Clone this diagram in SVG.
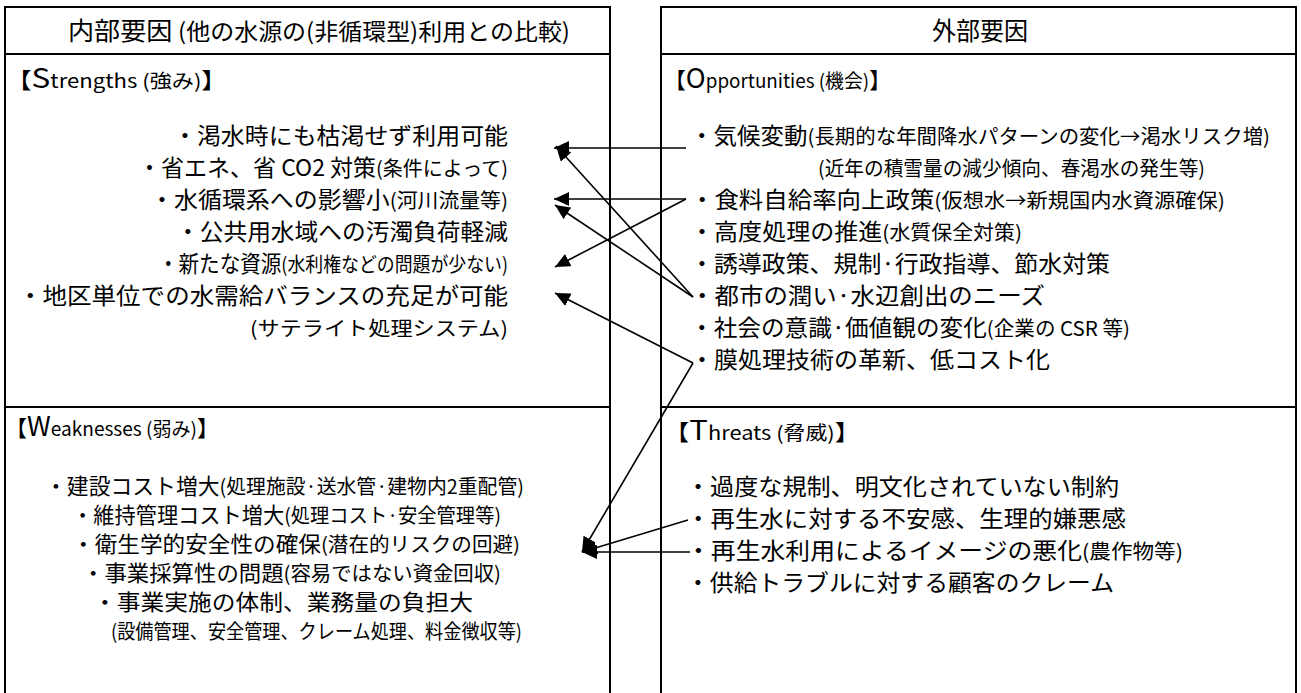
<svg xmlns="http://www.w3.org/2000/svg" width="1301" height="693" viewBox="0 0 1301 693">
<style>
.frame{fill:none;stroke:#000;stroke-width:2}
.t{font-family:"Noto Sans CJK JP","Noto Sans CJK SC",sans-serif;font-size:23px;fill:#000}
.w{font-size:22px}
.p{font-size:20px}
.h{font-size:25px}
.hp{font-size:23px}
.br{font-size:22px}
.cap{font-size:27px}
.lat{font-size:19px}
.con{fill:none;stroke:#000;stroke-width:1.6;marker-end:url(#ah)}
</style>
<defs>
<marker id="ah" markerUnits="userSpaceOnUse" markerWidth="16" markerHeight="14" refX="15" refY="7" orient="auto">
<path d="M0,0 L15,7 L0,14 z" fill="#000"/>
</marker>
</defs>
<rect width="1301" height="693" fill="#fff"/>

<g id="frame">
<path class="frame" d="M5,700 V7 H610 V700 M5,54 H610 M5,407 H610"/>
<path class="frame" d="M661,700 V7 H1296 V700 M661,54 H1296 M661,407 H1296"/>
</g>

<g id="header-internal">
<text class="t h" x="68" y="40" textLength="502" lengthAdjust="spacingAndGlyphs">内部要因 <tspan class="hp">(他の水源の(非循環型)利用との比較)</tspan></text>
</g>
<g id="header-external">
<text class="t h" x="932" y="40" textLength="96" lengthAdjust="spacingAndGlyphs">外部要因</text>
</g>

<g id="strengths">
<text class="t br" x="6" y="88" textLength="221" lengthAdjust="spacingAndGlyphs">【<tspan class="cap">S</tspan><tspan class="lat">trengths (強み)</tspan>】</text>
<text class="t" x="173" y="144" textLength="335" lengthAdjust="spacingAndGlyphs">・渇水時にも枯渇せず利用可能</text>
<text class="t" x="138" y="176" textLength="370" lengthAdjust="spacingAndGlyphs">・省エネ、省 CO2 対策<tspan class="p">(条件によって)</tspan></text>
<text class="t" x="150" y="208" textLength="358" lengthAdjust="spacingAndGlyphs">・水循環系への影響小<tspan class="p">(河川流量等)</tspan></text>
<text class="t" x="176" y="240" textLength="332" lengthAdjust="spacingAndGlyphs">・公共用水域への汚濁負荷軽減</text>
<text class="t" x="158" y="272" textLength="350" lengthAdjust="spacingAndGlyphs">・新たな資源<tspan class="p">(水利権などの問題が少ない)</tspan></text>
<text class="t" x="18" y="304" textLength="490" lengthAdjust="spacingAndGlyphs">・地区単位での水需給バランスの充足が可能</text>
<text class="t p" x="250" y="336" textLength="258" lengthAdjust="spacingAndGlyphs">(サテライト処理システム)</text>
</g>

<g id="opportunities">
<text class="t br" x="664" y="88" textLength="227" lengthAdjust="spacingAndGlyphs">【<tspan class="cap">O</tspan><tspan class="lat">pportunities (機会)</tspan>】</text>
<text class="t" x="690" y="144" textLength="580" lengthAdjust="spacingAndGlyphs">・気候変動<tspan class="p">(長期的な年間降水パターンの変化→渇水リスク増)</tspan></text>
<text class="t p" x="818" y="176" textLength="387" lengthAdjust="spacingAndGlyphs">(近年の積雪量の減少傾向、春渇水の発生等)</text>
<text class="t" x="690" y="208" textLength="535" lengthAdjust="spacingAndGlyphs">・食料自給率向上政策<tspan class="p">(仮想水→新規国内水資源確保)</tspan></text>
<text class="t" x="690" y="240" textLength="332" lengthAdjust="spacingAndGlyphs">・高度処理の推進<tspan class="p">(水質保全対策)</tspan></text>
<text class="t" x="690" y="272" textLength="420" lengthAdjust="spacingAndGlyphs">・誘導政策、規制·行政指導、節水対策</text>
<text class="t" x="690" y="304" textLength="355" lengthAdjust="spacingAndGlyphs">・都市の潤い·水辺創出のニーズ</text>
<text class="t" x="690" y="336" textLength="440" lengthAdjust="spacingAndGlyphs">・社会の意識·価値観の変化<tspan class="p">(企業の CSR 等)</tspan></text>
<text class="t" x="690" y="368" textLength="360" lengthAdjust="spacingAndGlyphs">・膜処理技術の革新、低コスト化</text>
</g>

<g id="weaknesses">
<text class="t br" x="5" y="436" textLength="214" lengthAdjust="spacingAndGlyphs">【<tspan class="cap">W</tspan><tspan class="lat">eaknesses (弱み)</tspan>】</text>
<text class="t w" x="45" y="494" textLength="479" lengthAdjust="spacingAndGlyphs">・建設コスト増大<tspan class="p">(処理施設·送水管·建物内2重配管)</tspan></text>
<text class="t w" x="72" y="523" textLength="429" lengthAdjust="spacingAndGlyphs">・維持管理コスト増大<tspan class="p">(処理コスト·安全管理等)</tspan></text>
<text class="t w" x="72" y="552" textLength="448" lengthAdjust="spacingAndGlyphs">・衛生学的安全性の確保<tspan class="p">(潜在的リスクの回避)</tspan></text>
<text class="t w" x="82" y="581" textLength="419" lengthAdjust="spacingAndGlyphs">・事業採算性の問題<tspan class="p">(容易ではない資金回収)</tspan></text>
<text class="t w" x="93" y="610" textLength="380" lengthAdjust="spacingAndGlyphs">・事業実施の体制、業務量の負担大</text>
<text class="t p" x="111" y="639" textLength="411" lengthAdjust="spacingAndGlyphs">(設備管理、安全管理、クレーム処理、料金徴収等)</text>
</g>

<g id="threats">
<text class="t br" x="664" y="440" textLength="196" lengthAdjust="spacingAndGlyphs">【<tspan class="cap">T</tspan><tspan class="lat">hreats (脅威)</tspan>】</text>
<text class="t" x="686" y="495" textLength="433" lengthAdjust="spacingAndGlyphs">・過度な規制、明文化されていない制約</text>
<text class="t" x="686" y="527" textLength="440" lengthAdjust="spacingAndGlyphs">・再生水に対する不安感、生理的嫌悪感</text>
<text class="t" x="686" y="559" textLength="497" lengthAdjust="spacingAndGlyphs">・再生水利用によるイメージの悪化<tspan class="p">(農作物等)</tspan></text>
<text class="t" x="686" y="591" textLength="428" lengthAdjust="spacingAndGlyphs">・供給トラブルに対する顧客のクレーム</text>
</g>

<g id="connectors">
<path class="con" d="M686,148 L554,148"/>
<path class="con" d="M686,199 L554,199"/>
<path class="con" d="M686,199 L555,267"/>
<path class="con" d="M693,297 L556,146"/>
<path class="con" d="M693,297 L555,205"/>
<path class="con" d="M693,363 L555,293"/>
<path class="con" d="M693,363 L582,552"/>
<path class="con" d="M688,520 L582,552"/>
<path class="con" d="M690,552 L582,552"/>
</g>
</svg>
